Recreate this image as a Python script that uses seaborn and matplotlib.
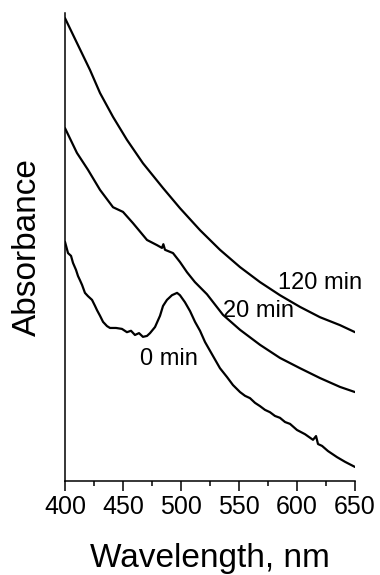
import matplotlib
matplotlib.use("Agg")
import matplotlib.pyplot as plt
import seaborn as sns
import pandas as pd
from matplotlib.ticker import MultipleLocator

# ---- data ----
wl_120 = [400.0, 410.3, 421.6, 430.2, 441.4, 453.4, 467.2, 484.5, 499.1, 516.4,
          533.6, 550.9, 568.1, 585.3, 602.6, 619.8, 637.1, 650.0]
abs_120 = [0.989, 0.936, 0.878, 0.829, 0.778, 0.729, 0.679, 0.626, 0.583, 0.536,
           0.494, 0.457, 0.425, 0.397, 0.372, 0.350, 0.333, 0.318]

wl_20 = [400.0, 410.3, 419.8, 430.2, 441.4, 450.0, 458.6, 470.7, 479.3, 483.6,
         484.8, 486.2, 493.1, 499.1, 505.2, 512.0, 522.4, 536.2, 550.9, 568.1,
         585.3, 602.6, 619.8, 637.1, 650.0]
abs_20 = [0.754, 0.701, 0.665, 0.622, 0.585, 0.575, 0.551, 0.515, 0.504, 0.498,
          0.506, 0.494, 0.487, 0.468, 0.446, 0.425, 0.399, 0.355, 0.323, 0.291,
          0.263, 0.241, 0.220, 0.201, 0.190]

wl_0 = [400.0, 402.6, 405.2, 406.9, 409.5, 411.2, 412.9, 414.7, 417.2, 419.8,
        423.3, 425.9, 427.6, 430.2, 432.8, 436.2, 438.8, 444.0, 449.1, 453.4,
        456.9, 460.3, 463.8, 467.2, 470.7, 473.3, 477.6, 481.9, 484.5, 487.9,
        492.2, 496.6, 499.1, 503.4, 507.8, 512.1, 516.4, 520.7, 527.6, 533.6,
        539.7, 544.8, 550.9, 555.2, 559.5, 563.8, 568.1, 572.4, 576.7, 581.0,
        585.3, 589.7, 594.0, 600.0, 606.9, 613.8, 616.4, 618.1, 621.6, 626.7,
        634.5, 641.4, 650.0]
abs_0 = [0.511, 0.487, 0.481, 0.466, 0.451, 0.438, 0.429, 0.419, 0.402, 0.395,
         0.387, 0.374, 0.365, 0.353, 0.340, 0.331, 0.327, 0.327, 0.325, 0.318,
         0.321, 0.312, 0.316, 0.308, 0.310, 0.316, 0.329, 0.353, 0.374, 0.387,
         0.397, 0.402, 0.397, 0.382, 0.363, 0.340, 0.321, 0.297, 0.267, 0.241,
         0.222, 0.205, 0.190, 0.182, 0.177, 0.167, 0.160, 0.152, 0.147, 0.139,
         0.135, 0.126, 0.122, 0.109, 0.100, 0.088, 0.096, 0.079, 0.075, 0.064,
         0.051, 0.041, 0.030]

labels = ["120 min", "20 min", "0 min"]
label_x = [583.6, 536.2, 464.7]
label_y = [0.410, 0.350, 0.248]

xticks = [400, 450, 500, 550, 600, 650]

# ---- style ----
sns.set_style("ticks")
plt.rcParams["font.family"] = ["Liberation Sans", "DejaVu Sans"]

fig = plt.figure(figsize=(3.8, 5.75), dpi=100)
ax = fig.add_axes([65 / 380, 1 - 481 / 575, 290 / 380, 468 / 575])

for wl, ab in [(wl_120, abs_120), (wl_20, abs_20), (wl_0, abs_0)]:
    df = pd.DataFrame({"wl": wl, "abs": ab})
    sns.lineplot(data=df, x="wl", y="abs", ax=ax, color="black",
                 linewidth=1.6, estimator=None, sort=False)

for t, x, y in zip(labels, label_x, label_y):
    ax.text(x, y, t, fontsize=17, color="black", ha="left", va="baseline")

ax.set_xlim(400, 650)
ax.set_ylim(0, 1.0)
ax.set_xticks(xticks)
ax.set_xticklabels([str(v) for v in xticks])
ax.xaxis.set_minor_locator(MultipleLocator(25))
ax.set_yticks([])
ax.tick_params(axis="x", which="major", direction="out", length=7.2,
               width=1.1, labelsize=18, pad=3, color="black", labelcolor="black")
ax.tick_params(axis="x", which="minor", direction="out", length=3.6,
               width=1.1, color="black")
for s in ["top", "right"]:
    ax.spines[s].set_visible(False)
for s in ["left", "bottom"]:
    ax.spines[s].set_linewidth(1.1)
    ax.spines[s].set_color("black")

ax.set_xlabel("Wavelength, nm", fontsize=24, labelpad=17, color="black")
ax.set_ylabel("Absorbance", fontsize=24, labelpad=16, color="black")

fig.savefig("out.png", dpi=100)
